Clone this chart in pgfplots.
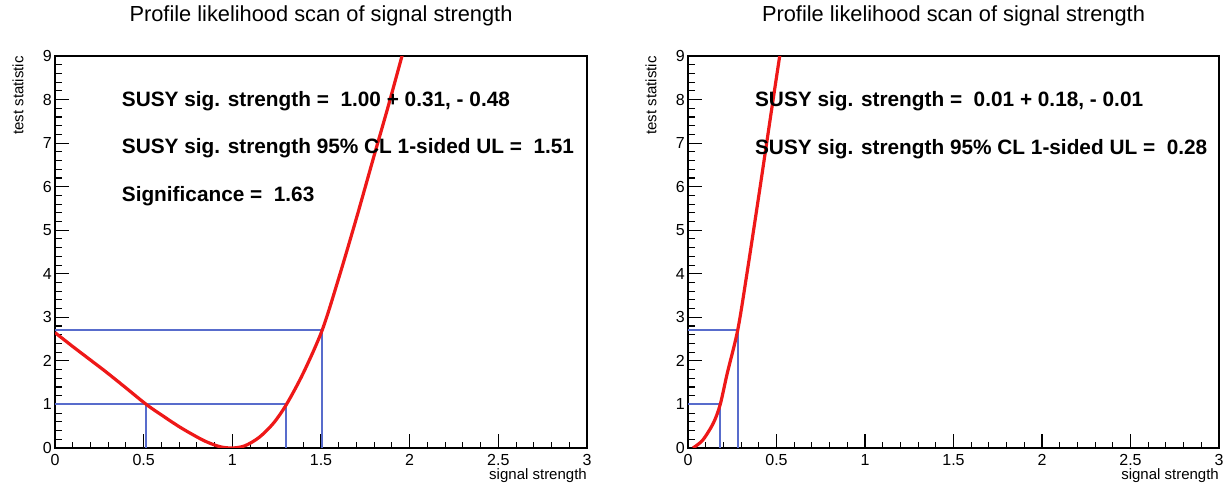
\documentclass[border=0pt]{standalone}
\usepackage{pgfplots}
\pgfplotsset{compat=1.18}
\usepackage{fontspec}
\setmainfont{Liberation Sans}

\definecolor{scanred}{RGB}{238,24,24}
\definecolor{clblue}{RGB}{88,108,204}

\pgfplotsset{
  scanaxis/.style={
    scale only axis, width=532bp, height=392bp, anchor=south west,
    xmin=0, xmax=3, ymin=0, ymax=9,
    xtick={0,0.5,...,3}, ytick={0,1,...,9},
    minor x tick num=4, minor y tick num=4,
    tick pos=left, tick align=inside,
    major tick length=13.5bp, minor tick length=6.5bp,
    tick style={black, line width=1.1bp},
    axis line style={black, line width=1.3bp},
    /pgf/number format/assume math mode=true,
    ticklabel style={font=\fontsize{16bp}{16bp}\selectfont},
    xticklabel style={anchor=north, inner sep=0pt, yshift=-6bp},
    yticklabel style={anchor=east, inner sep=0pt, xshift=-3bp},
    title={Profile likelihood scan of signal strength},
    title style={at={(0.5,1)}, anchor=base, yshift=29bp, inner sep=0pt,
      font=\fontsize{21.8bp}{22bp}\selectfont},
    xlabel={signal strength},
    xlabel style={at={(1,0)}, anchor=base east, yshift=-31bp, inner sep=0pt,
      font=\fontsize{15bp}{15bp}\selectfont},
    ylabel={test statistic},
    ylabel style={at={(-0.0695,1)}, anchor=east, inner sep=0pt,
      font=\fontsize{15bp}{15bp}\selectfont},
    clip=true,
  },
  cl/.style={clblue, line width=1.9bp},
  scan/.style={scanred, line width=3.2bp, smooth, no marks},
}
\tikzset{
  note/.style={anchor=base west, inner sep=0pt,
    font=\bfseries\fontsize{20.8bp}{21bp}\selectfont},
}

\begin{document}
\begin{tikzpicture}
\useasboundingbox (0,0) rectangle (1225bp,483bp);

% first fit: best fit 1.00, interval [0.52, 1.31], UL 1.51
\begin{axis}[scanaxis, at={(55bp,35bp)}]
  \addplot[cl] coordinates {(0,1) (1.305,1)};
  \addplot[cl] coordinates {(0.515,0) (0.515,1)};
  \addplot[cl] coordinates {(1.305,0) (1.305,1)};
  \addplot[cl] coordinates {(0,2.71) (1.507,2.71)};
  \addplot[cl] coordinates {(1.507,0) (1.507,2.71)};
  \addplot[scan] coordinates {
    (0.00,2.65) (0.10,2.33) (0.20,2.02) (0.29,1.74) (0.40,1.38)
    (0.515,1.00) (0.60,0.76) (0.70,0.49) (0.78,0.30) (0.85,0.15)
    (0.93,0.03) (1.00,0.00) (1.07,0.05) (1.15,0.24) (1.23,0.56)
    (1.305,1.00) (1.40,1.72) (1.507,2.71) (1.60,3.90) (1.70,5.28)
    (1.80,6.72) (1.88,7.86) (1.96,9.05)
  };
  \node[note] at (axis cs:0.376,7.85) {SUSY sig. strength = \ 1.00 + 0.31, - 0.48};
  \node[note] at (axis cs:0.376,6.77) {SUSY sig. strength 95\% CL 1-sided UL = \ 1.51};
  \node[note] at (axis cs:0.376,5.66) {Significance = \ 1.63};
\end{axis}

% second fit: best fit 0.01, interval [0, 0.18], UL 0.28
\begin{axis}[scanaxis, at={(688bp,35bp)}, width=531bp]
  \addplot[cl] coordinates {(0,1) (0.182,1)};
  \addplot[cl] coordinates {(0.182,0) (0.182,1)};
  \addplot[cl] coordinates {(0,2.71) (0.281,2.71)};
  \addplot[cl] coordinates {(0.281,0) (0.281,2.71)};
  \addplot[scan] coordinates {
    (0.028,0.00) (0.083,0.18) (0.143,0.57) (0.182,1.00) (0.222,1.72)
    (0.281,2.71) (0.332,3.98) (0.404,5.90) (0.479,7.95) (0.52,9.05)
  };
  \node[note] at (axis cs:0.378,7.85) {SUSY sig. strength = \ 0.01 + 0.18, - 0.01};
  \node[note] at (axis cs:0.378,6.73) {SUSY sig. strength 95\% CL 1-sided UL = \ 0.28};
\end{axis}
\end{tikzpicture}
\end{document}
